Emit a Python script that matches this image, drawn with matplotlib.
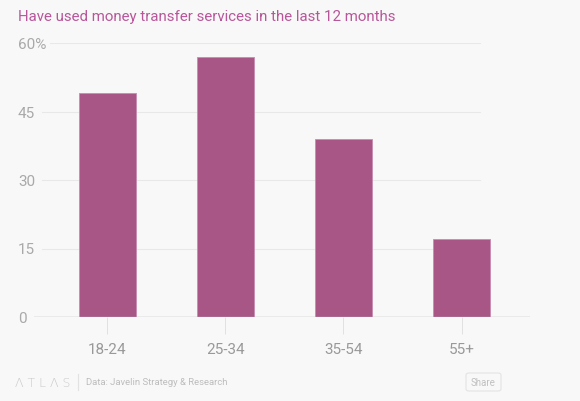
import matplotlib.pyplot as plt
from matplotlib.patches import FancyBboxPatch

categories = ["18-24", "25-34", "35-54", "55+"]
values = [49, 57, 39, 17]
yticks = [0, 15, 30, 45, 60]
ytick_labels = ["0", "15", "30", "45", "60%"]

W, H = 580, 402
bg = "#f8f8f8"
bar_color = "#a85686"
grid_color = "#e8e8e8"
label_color = "#a9a9a9"

plt.rcParams["font.family"] = ["Roboto", "DejaVu Sans"]

fig = plt.figure(figsize=(W / 100, H / 100), dpi=100, facecolor=bg)

# axes placed in pixel terms of the reference
ax_l, ax_r, ax_b, ax_t = 34, 530, 318, 44
ax = fig.add_axes([ax_l / W, 1 - ax_b / H, (ax_r - ax_l) / W, (ax_b - ax_t) / H])
ax.set_facecolor(bg)

x = list(range(len(categories)))
ax.bar(x, values, width=0.48, color=bar_color, edgecolor="#c78bb0", linewidth=0.6, zorder=3)
ax.set_xlim(-0.62, 3.58)
ax.set_ylim(0, 60)

for s in ax.spines.values():
    s.set_visible(False)

# gridlines start just after their labels
grid_start = {0: 34, 15: 42, 30: 42, 45: 42, 60: 50}
for t, lab in zip(yticks, ytick_labels):
    xmin = (grid_start[t] - ax_l) / (ax_r - ax_l)
    if t == 0:
        ax.axhline(0, xmin=xmin, xmax=1, color="#b5b5b5", lw=1, zorder=4)
    else:
        ax.axhline(t, xmin=xmin, xmax=0.90, color=grid_color, lw=0.8, zorder=1)
    fig.text(18 / W, 1 - (ax_b + 1 - t * (ax_b - ax_t) / 60) / H, lab, ha="left", va="center",
             fontsize=11, color=label_color)

ax.set_yticks([])
ax.set_xticks(x)
ax.set_xticklabels(categories, fontsize=11, color="#999999")
ax.tick_params(axis="x", length=12, width=0.6, color="#dddddd", pad=6, direction="out")

fig.text(18 / W, 1 - 17 / H, "Have used money transfer services in the last 12 months",
         ha="left", va="center", fontsize=10.8, color="#b8569a")

# footer
fig.text(15 / W, 1 - 383 / H, "\u039b T L \u039b S", ha="left", va="center", fontsize=9,
         color="#c8c8c8", family=["DejaVu Sans"], fontweight="light")
fig.add_artist(plt.Line2D([78 / W, 78 / W], [1 - 375 / H, 1 - 391 / H], color="#e2e2e2", lw=0.8))
fig.text(86 / W, 1 - 383 / H, "Data: Javelin Strategy & Research", ha="left", va="center",
         fontsize=6.8, color="#bdbdbd")
btn = FancyBboxPatch((466 / W, 1 - 392 / H), 35 / W, 18 / H,
                     boxstyle="round,pad=0,rounding_size=0.005", transform=fig.transFigure,
                     facecolor=bg, edgecolor="#e3e3e3", lw=0.8)
fig.add_artist(btn)
fig.text(483.5 / W, 1 - 383 / H, "Share", ha="center", va="center", fontsize=7, color="#c0c0c0")

fig.savefig("out.png", dpi=100, facecolor=bg)
